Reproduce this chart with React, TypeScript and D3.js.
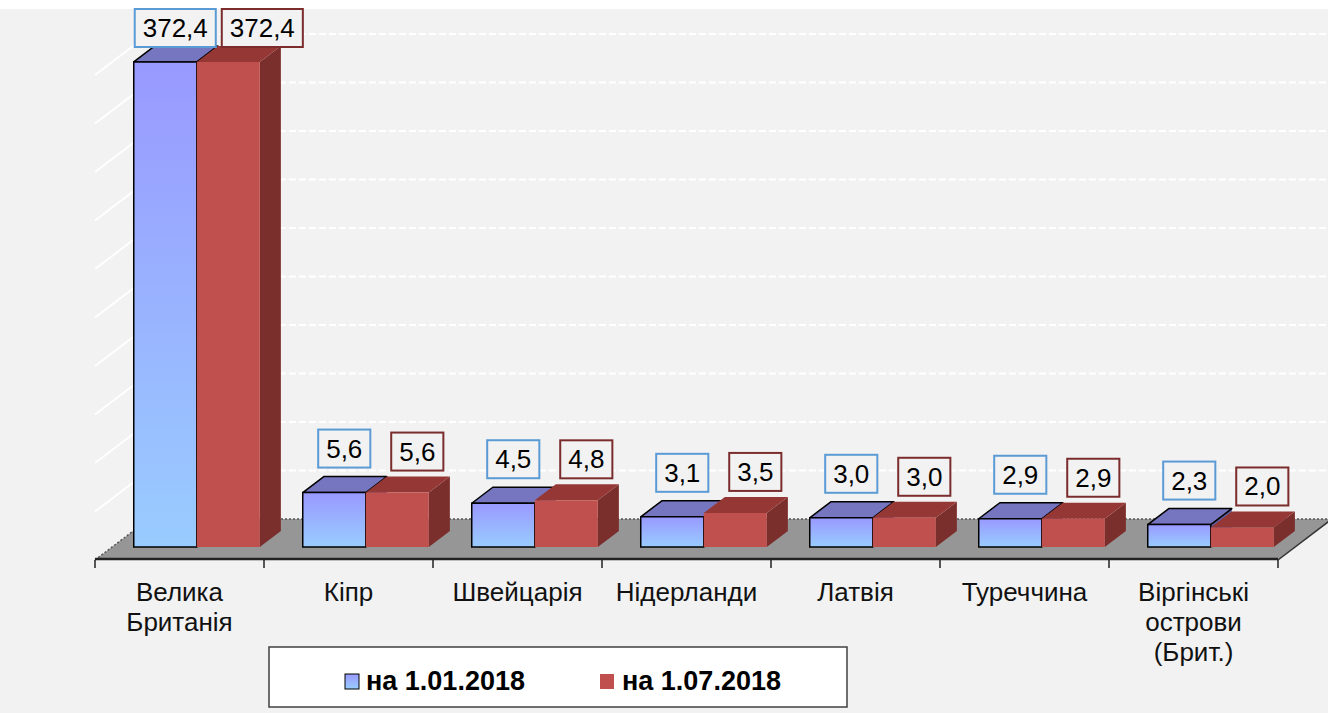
import React from "react";
import * as d3 from "d3";

const categories = [
  "Велика\nБританія",
  "Кіпр",
  "Швейцарія",
  "Нідерланди",
  "Латвія",
  "Туреччина",
  "Віргінські\nострови\n(Брит.)",
];
const seriesNames = ["на 1.01.2018", "на 1.07.2018"];
const valuesJan = [372.4, 5.6, 4.5, 3.1, 3.0, 2.9, 2.3];
const valuesJul = [372.4, 5.6, 4.8, 3.5, 3.0, 2.9, 2.0];
const yMax = 50;

const W = 1328;
const H = 713;
const FONT = "'Liberation Sans', Arial, sans-serif";

export default function App() {
  const floorFrontY = 560;
  const floorLeft = 95;
  const floorRight = 1278;
  const depthX = 54;
  const depthY = 41;
  const z0 = 0.32;
  const z1 = 0.71;

  const x0 = d3
    .scaleBand<string>()
    .domain(categories)
    .range([floorLeft, floorRight])
    .paddingInner(0.254)
    .paddingOuter(0.127);
  const x1 = d3
    .scaleBand<string>()
    .domain(seriesNames)
    .range([0, x0.bandwidth()]);
  const yh = d3.scaleLinear().domain([0, yMax]).range([0, 485]).clamp(true);
  const ticks = yh.ticks(10).filter((t) => t > 0);

  const proj = (x: number, z: number, v: number): [number, number] => [
    x + z * depthX,
    floorFrontY - z * depthY - yh(v),
  ];

  const series = [
    { name: seriesNames[0], values: valuesJan, front: "url(#blueGrad)", top: "#7676c0", side: "#5d5da0", stroke: "#000", sw: 1.5, box: "#5b9bd5", lblDx: 10, lblDy: 25 },
    { name: seriesNames[1], values: valuesJul, front: "#c0504d", top: "#953735", side: "#7b2f2d", stroke: "none", sw: 0, box: "#7b2c2c", lblDx: 20, lblDy: 22 },
  ];

  const fmt = (v: number) => v.toFixed(1).replace(".", ",");
  const textW = (s: string, size: number) =>
    s.split("").reduce((a, c) => a + (c === "," || c === "." ? 0.278 : 0.556), 0) * size;

  const pts = (arr: [number, number][]) => arr.map((p) => p.join(",")).join(" ");

  const bars: JSX.Element[] = [];
  const labels: JSX.Element[] = [];

  categories.forEach((cat, ci) => {
    let prevRight = -Infinity;
    series.forEach((s, si) => {
      const v = s.values[ci];
      const xl = (x0(cat) as number) + (x1(s.name) as number);
      const xr = xl + x1.bandwidth();
      const fbl = proj(xl, z0, 0);
      const fbr = proj(xr, z0, 0);
      const ftl = proj(xl, z0, v);
      const ftr = proj(xr, z0, v);
      const btl = proj(xl, z1, v);
      const btr = proj(xr, z1, v);
      const bbr = proj(xr, z1, 0);
      bars.push(
        <g key={`bar-${ci}-${si}`}>
          <polygon points={pts([fbr, ftr, btr, bbr])} fill={s.side} />
          <polygon points={pts([ftl, ftr, btr, btl])} fill={s.top} stroke={s.stroke} strokeWidth={s.sw} strokeLinejoin="round" />
          <polygon points={pts([fbl, fbr, ftr, ftl])} fill={s.front} stroke={s.stroke} strokeWidth={s.sw} />
        </g>
      );
      // label
      const txt = fmt(v);
      const bw = textW(txt, 26) + 16;
      const bh = 38;
      let cx = (ftl[0] + ftr[0]) / 2 + s.lblDx;
      let left = cx - bw / 2;
      if (left < prevRight + 6) {
        left = prevRight + 6;
        cx = left + bw / 2;
      }
      prevRight = left + bw;
      let top = ftl[1] - s.lblDy - bh;
      if (top < 9) top = 9;
      labels.push(
        <g key={`lbl-${ci}-${si}`}>
          <rect x={left} y={top} width={bw} height={bh} fill="#f2f2f2" stroke={s.box} strokeWidth={2} />
          <text x={cx} y={top + 28} textAnchor="middle" fontSize={26} fontFamily={FONT} fill="#000">
            {txt}
          </text>
        </g>
      );
    });
  });

  const backLeft = floorLeft + depthX;
  const backY = floorFrontY - depthY;
  const step = x0.step();
  const tickXs = d3.range(categories.length + 1).map((i) => floorLeft + i * step);

  return (
    <svg
      width={W}
      height={H}
      style={{ position: "absolute", left: 0, top: 0, display: "block" }}
      xmlns="http://www.w3.org/2000/svg"
    >
      <defs>
        <linearGradient id="blueGrad" x1="0" y1="0" x2="0" y2="1">
          <stop offset="0" stopColor="#9999ff" />
          <stop offset="1" stopColor="#99ccff" />
        </linearGradient>
      </defs>
      <rect x={0} y={0} width={W} height={H} fill="#ffffff" />
      <rect x={0} y={9} width={W} height={H - 9} fill="#f2f2f2" />

      {/* back wall gridlines */}
      {ticks.map((t) => (
        <line key={`g-${t}`} x1={backLeft} x2={W} y1={backY - yh(t)} y2={backY - yh(t)} stroke="#ffffff" strokeWidth={2} strokeDasharray="7,3" />
      ))}
      {/* left wall lines */}
      {ticks.map((t) => (
        <line key={`lw-${t}`} x1={floorLeft} y1={floorFrontY - yh(t)} x2={backLeft} y2={backY - yh(t)} stroke="#ffffff" strokeWidth={2} />
      ))}

      {/* floor */}
      <polygon
        points={pts([
          [floorLeft, floorFrontY],
          [floorRight, floorFrontY],
          [floorRight + depthX, backY],
          [backLeft, backY],
        ])}
        fill="#969696"
      />
      <line x1={backLeft} y1={backY} x2={W} y2={backY} stroke="#555" strokeWidth={1.5} strokeDasharray="2,2" />
      <line x1={floorLeft} y1={floorFrontY} x2={backLeft} y2={backY} stroke="#555" strokeWidth={1.5} strokeDasharray="2,2" />
      <line x1={floorRight} y1={floorFrontY} x2={floorRight + depthX} y2={backY} stroke="#333" strokeWidth={1.5} />
      <line x1={floorLeft} y1={floorFrontY - 1} x2={floorRight} y2={floorFrontY - 1} stroke="#222" strokeWidth={2.5} />
      {tickXs.map((x, i) => (
        <line key={`t-${i}`} x1={x} x2={x} y1={floorFrontY} y2={floorFrontY + 8} stroke="#222" strokeWidth={1.5} />
      ))}

      {bars}
      {labels}

      {/* category labels */}
      {categories.map((cat) => {
        const cx = (x0(cat) as number) + x0.bandwidth() / 2;
        return (
          <text key={`c-${cat}`} textAnchor="middle" fontSize={26} fontFamily={FONT} fill="#111">
            {cat.split("\n").map((ln, i) => (
              <tspan key={i} x={cx} y={601 + i * 30}>
                {ln}
              </tspan>
            ))}
          </text>
        );
      })}

      {/* legend */}
      <rect x={269} y={647} width={578} height={60} fill="#ffffff" stroke="#404040" strokeWidth={1.5} />
      <rect x={345} y={674} width={14} height={15} fill="url(#blueGrad)" stroke="#000" strokeWidth={1} />
      <text x={366} y={690} fontSize={27} fontWeight="bold" fontFamily={FONT} fill="#000">
        {seriesNames[0]}
      </text>
      <rect x={600} y={674} width={14} height={15} fill="#c0504d" />
      <text x={622} y={690} fontSize={27} fontWeight="bold" fontFamily={FONT} fill="#000">
        {seriesNames[1]}
      </text>
    </svg>
  );
}
